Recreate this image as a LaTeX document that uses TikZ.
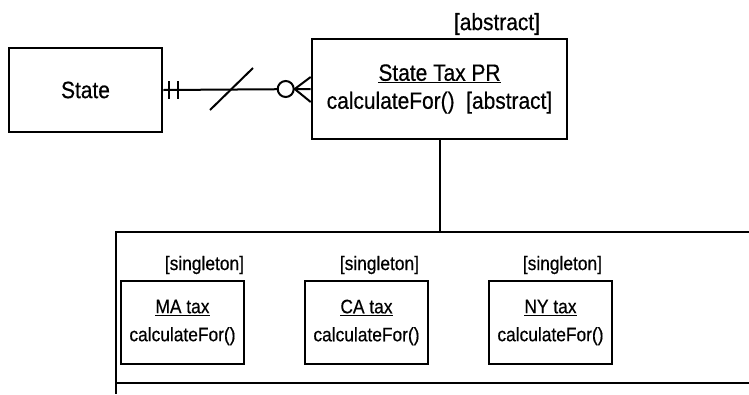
\documentclass[tikz,border=0pt]{standalone}
\usepackage{fontspec}
\setmainfont{Liberation Sans}
\newfontfamily\narrowsans[FakeStretch=0.89,FakeBold=0.5]{Liberation Sans}
\usetikzlibrary{calc}
\begin{document}
\begin{tikzpicture}[x=1pt,y=-1pt,
  line width=2pt,
  classbox/.style={draw,rectangle,line width=2.6pt,inner sep=0pt,align=center},
  bigtext/.style={font=\narrowsans\fontsize{23.5}{28}\selectfont},
  smalltext/.style={font=\narrowsans\fontsize{19.5}{28}\selectfont},
  tag/.style={inner sep=0pt,anchor=east}]
  \useasboundingbox (0,0) rectangle (749,394);

  % entity and abstract policy class
  \node[classbox,bigtext,minimum width=153pt,minimum height=84pt] (state) at (85.5,90) {State};
  \node[classbox,bigtext,minimum width=255pt,minimum height=100pt] (pr) at (439.5,89)
    {\underline{State\ Tax\ PR}\\calculateFor()\ \ [abstract]};
  \node[tag,bigtext] (abs) at (541,24) {[abstract]};

  % association: one-and-only-one to zero-or-many
  \draw (state.east) -- (pr.west);
  \draw ($(state.east)+(6,-9)$) -- ($(state.east)+(6,9)$);
  \draw ($(state.east)+(15,-9)$) -- ($(state.east)+(15,9)$);
  \coordinate (mid) at (231.5,89);
  \draw ($(mid)+(-21.5,21)$) -- ($(mid)+(21.5,-21)$);
  \draw[fill=white] ($(pr.west)+(-25,0)$) circle (8);
  \draw ($(pr.west)+(-16,0)$) -- ($(pr.west)+(0,-12)$);
  \draw ($(pr.west)+(-16,0)$) -- ($(pr.west)+(0,13)$);

  % container of concrete singletons
  \coordinate (ctl) at (116,232);
  \coordinate (ctr) at (749,232);
  \coordinate (cbl) at (116,383);
  \coordinate (cbr) at (749,383);
  \coordinate (cend) at (116,394);
  \draw[line width=2.6pt] (ctr) -- (ctl) -- (cend);
  \draw[line width=2.6pt] (cbl) -- (cbr);
  \draw (pr.south) -- (pr.south |- ctl);

  \node[classbox,smalltext,minimum width=123pt,minimum height=83pt] (ma) at (182.5,322.5)
    {\underline{MA\ tax}\\calculateFor()};
  \node[classbox,smalltext,minimum width=123pt,minimum height=83pt] (ca) at (366.5,322.5)
    {\underline{CA\ tax}\\calculateFor()};
  \node[classbox,smalltext,minimum width=123pt,minimum height=83pt] (ny) at (550.5,322.5)
    {\underline{NY\ tax}\\calculateFor()};

  \node[tag,smalltext] (sma) at (245,265) {[singleton]};
  \node[tag,smalltext] (sca) at (420,265) {[singleton]};
  \node[tag,smalltext] (sny) at (603,265) {[singleton]};
\end{tikzpicture}
\end{document}
